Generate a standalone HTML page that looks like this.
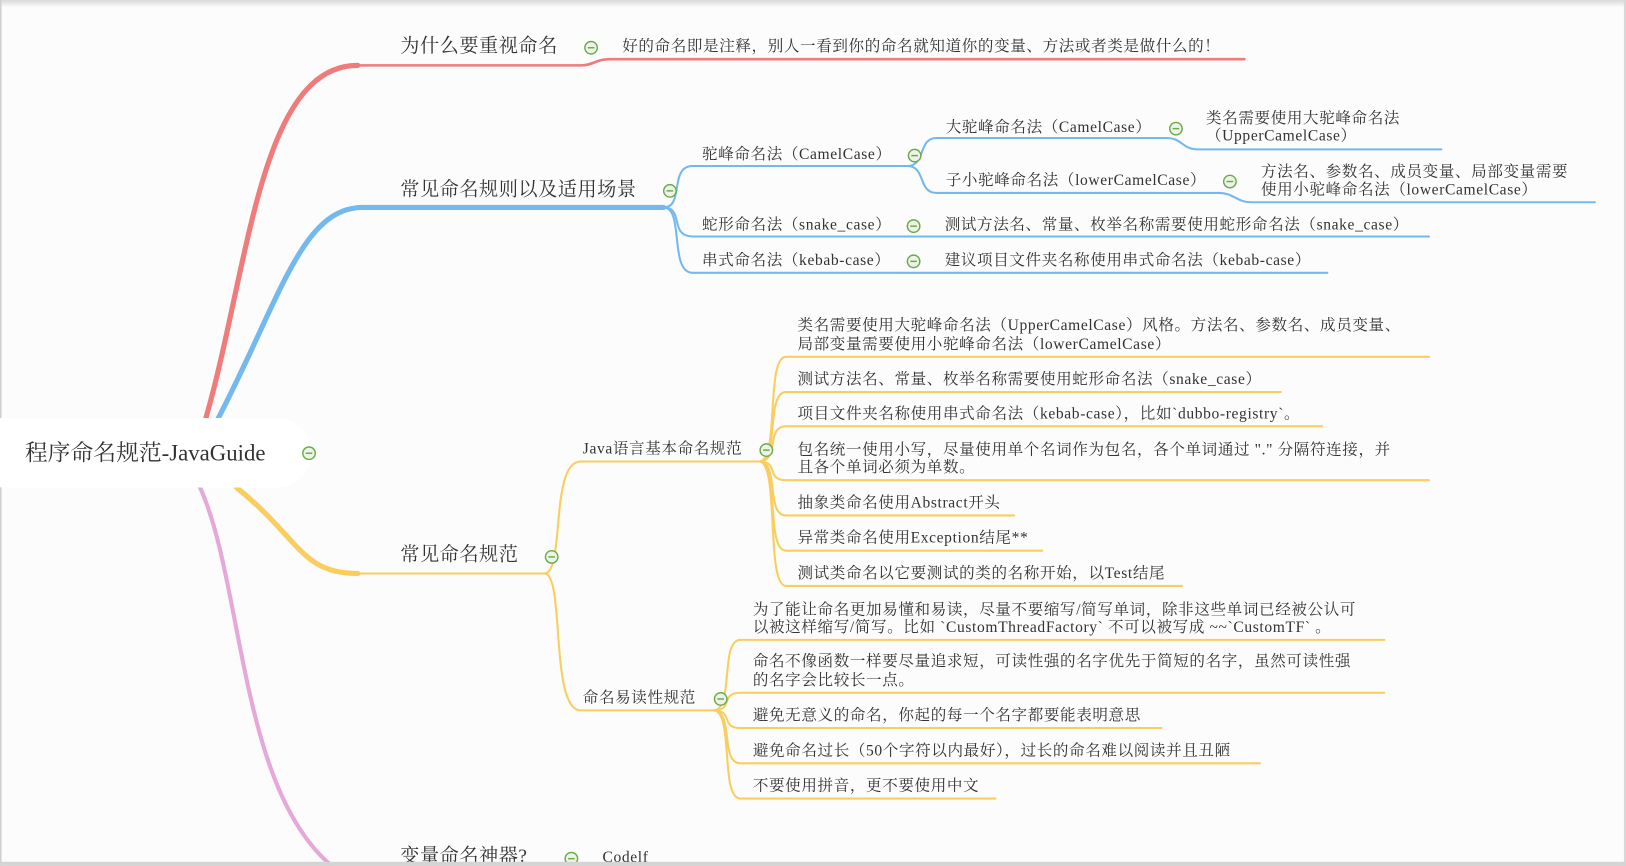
<!DOCTYPE html>
<html><head><meta charset="utf-8"><style>
html,body{margin:0;padding:0;background:#fcfcfc;overflow:hidden}
svg{display:block}
text{font-family:"Liberation Serif","Noto Serif CJK SC",serif;fill:#333;dominant-baseline:central}
.m{font-size:18.5px;letter-spacing:0.5px}.l{font-size:15px;letter-spacing:0.6px}
</style></head><body>
<svg width="1626" height="866" viewBox="0 0 1568 835" xmlns="http://www.w3.org/2000/svg">
<defs><linearGradient id="tg" x1="0" y1="0" x2="0" y2="1"><stop offset="0" stop-color="#d8d8d8"/><stop offset="1" stop-color="#fcfcfc"/></linearGradient>
<g id="ic"><circle r="6" fill="#eef3e8" stroke="#6aab48" stroke-width="1.4"/><line x1="-3.2" y1="0" x2="3.2" y2="0" stroke="#6aab48" stroke-width="1.4"/></g></defs>
<rect width="1568" height="835" fill="#fcfcfc"/>
<rect width="1568" height="7" fill="url(#tg)"/>
<rect x="0" y="0" width="1.5" height="835" fill="#d0d0d0"/>
<rect x="1566" y="0" width="2" height="835" fill="#d8d8d8"/>

<g fill="none" stroke-linecap="round">
<path d="M198,405 C240,260 250,63 345,63 L560,63 C572,63 575,57 588,57 L1200,57" stroke="#ef7b7b" stroke-width="2.5"/>
<path d="M198,405 C240,260 250,63 345,63" stroke="#ef7b7b" stroke-width="5"/>
<g stroke="#74b9ed" stroke-width="2">
<path d="M208,408 C270,290 290,200 350,200 L640,200" stroke-width="5"/>
<path d="M350,200 L640,200"/>
<path d="M640,200 C660,200 645,160 668,160 L875,160"/>
<path d="M640,200 C660,200 645,228 668,228 L870,228"/>
<path d="M640,200 C660,200 645,263 668,263 L870,263"/>
<path d="M875,160 C893,160 885,133 903,133 L1125,133"/>
<path d="M875,160 C893,160 885,186 903,186 L1175,186"/>
<path d="M1125,133 C1140,133 1140,144 1155,144 L1390,144"/>
<path d="M1175,186 C1190,186 1192,195 1207,195 L1538,195"/>
<path d="M870,228 L1378,228"/>
<path d="M870,263 L1280,263"/>
</g>
<g stroke="#f9cd5e" stroke-width="2">
<path d="M228,470 C290,520 290,553 345,553" stroke-width="5"/>
<path d="M345,553 L525,553"/>
<path d="M525,553 C545,553 530,445 560,445 L732,445"/>
<path d="M525,553 C545,553 530,685 560,685 L688,685"/>
<path d="M732,445 C752,445 738,344 758,344 L1378,344"/>
<path d="M732,445 C752,445 738,378 758,378 L1235,378"/>
<path d="M732,445 C752,445 738,411 758,411 L1275,411"/>
<path d="M732,445 C752,445 738,463 758,463 L1378,463"/>
<path d="M732,445 C752,445 738,497 758,497 L978,497"/>
<path d="M732,445 C752,445 738,531 758,531 L1005,531"/>
<path d="M732,445 C752,445 738,565 758,565 L1140,565"/>
<path d="M688,685 C708,685 694,617 714,617 L1335,617"/>
<path d="M688,685 C708,685 694,668 714,668 L1335,668"/>
<path d="M688,685 C708,685 694,702 714,702 L1120,702"/>
<path d="M688,685 C708,685 694,736 714,736 L1215,736"/>
<path d="M688,685 C708,685 694,770 714,770 L960,770"/>
</g>
<path d="M192,468 C235,560 230,760 320,835" stroke="#e6a8d9" stroke-width="4"/>
</g>

<rect x="-30" y="403" width="330" height="67" rx="33" fill="#fff"/>
<text x="24" y="437" style="font-size:22px">程序命名规范-JavaGuide</text>
<use href="#ic" x="298" y="437"/>

<text class="m" x="386" y="45">为什么要重视命名</text>
<use href="#ic" x="570" y="46"/>
<text class="l" x="600" y="45">好的命名即是注释，别人一看到你的命名就知道你的变量、方法或者类是做什么的！</text>

<text class="m" x="386" y="183">常见命名规则以及适用场景</text>
<use href="#ic" x="646" y="184"/>
<text class="l" x="677" y="149">驼峰命名法（CamelCase）</text>
<use href="#ic" x="882" y="150"/>
<text class="l" x="912" y="123">大驼峰命名法（CamelCase）</text>
<use href="#ic" x="1134" y="124"/>
<text class="l" x="1163" y="114">类名需要使用大驼峰命名法</text>
<text class="l" x="1163" y="131">（UpperCamelCase）</text>
<text class="l" x="912" y="174">子小驼峰命名法（lowerCamelCase）</text>
<use href="#ic" x="1186" y="175"/>
<text class="l" x="1216" y="166">方法名、参数名、成员变量、局部变量需要</text>
<text class="l" x="1216" y="183">使用小驼峰命名法（lowerCamelCase）</text>
<text class="l" x="677" y="217">蛇形命名法（snake_case）</text>
<use href="#ic" x="881" y="218"/>
<text class="l" x="911" y="217">测试方法名、常量、枚举名称需要使用蛇形命名法（snake_case）</text>
<text class="l" x="677" y="251">串式命名法（kebab-case）</text>
<use href="#ic" x="881" y="252"/>
<text class="l" x="911" y="251">建议项目文件夹名称使用串式命名法（kebab-case）</text>

<text class="m" x="386" y="535">常见命名规范</text>
<use href="#ic" x="532" y="537"/>
<text class="l" x="562" y="433">Java语言基本命名规范</text>
<use href="#ic" x="739" y="434"/>
<text class="l" x="769" y="314">类名需要使用大驼峰命名法（UpperCamelCase）风格。方法名、参数名、成员变量、</text>
<text class="l" x="769" y="332">局部变量需要使用小驼峰命名法（lowerCamelCase）</text>
<text class="l" x="769" y="366">测试方法名、常量、枚举名称需要使用蛇形命名法（snake_case）</text>
<text class="l" x="769" y="399">项目文件夹名称使用串式命名法（kebab-case），比如`dubbo-registry`。</text>
<text class="l" x="769" y="434">包名统一使用小写，尽量使用单个名词作为包名，各个单词通过 "." 分隔符连接，并</text>
<text class="l" x="769" y="451">且各个单词必须为单数。</text>
<text class="l" x="769" y="485">抽象类命名使用Abstract开头</text>
<text class="l" x="769" y="519">异常类命名使用Exception结尾**</text>
<text class="l" x="769" y="553">测试类命名以它要测试的类的名称开始，以Test结尾</text>

<text class="l" x="562" y="673">命名易读性规范</text>
<use href="#ic" x="695" y="674"/>
<text class="l" x="726" y="588">为了能让命名更加易懂和易读，尽量不要缩写/简写单词，除非这些单词已经被公认可</text>
<text class="l" x="726" y="605">以被这样缩写/简写。比如 `CustomThreadFactory` 不可以被写成 ~~`CustomTF` 。</text>
<text class="l" x="726" y="638">命名不像函数一样要尽量追求短，可读性强的名字优先于简短的名字，虽然可读性强</text>
<text class="l" x="726" y="656">的名字会比较长一点。</text>
<text class="l" x="726" y="690">避免无意义的命名，你起的每一个名字都要能表明意思</text>
<text class="l" x="726" y="724">避免命名过长（50个字符以内最好），过长的命名难以阅读并且丑陋</text>
<text class="l" x="726" y="758">不要使用拼音，更不要使用中文</text>

<text class="m" x="386" y="826">变量命名神器?</text>
<use href="#ic" x="551" y="828"/>
<text class="l" x="581" y="827">Codelf</text>
<rect x="0" y="831" width="1568" height="4" fill="#d4d4d4"/>
</svg>
</body></html>
